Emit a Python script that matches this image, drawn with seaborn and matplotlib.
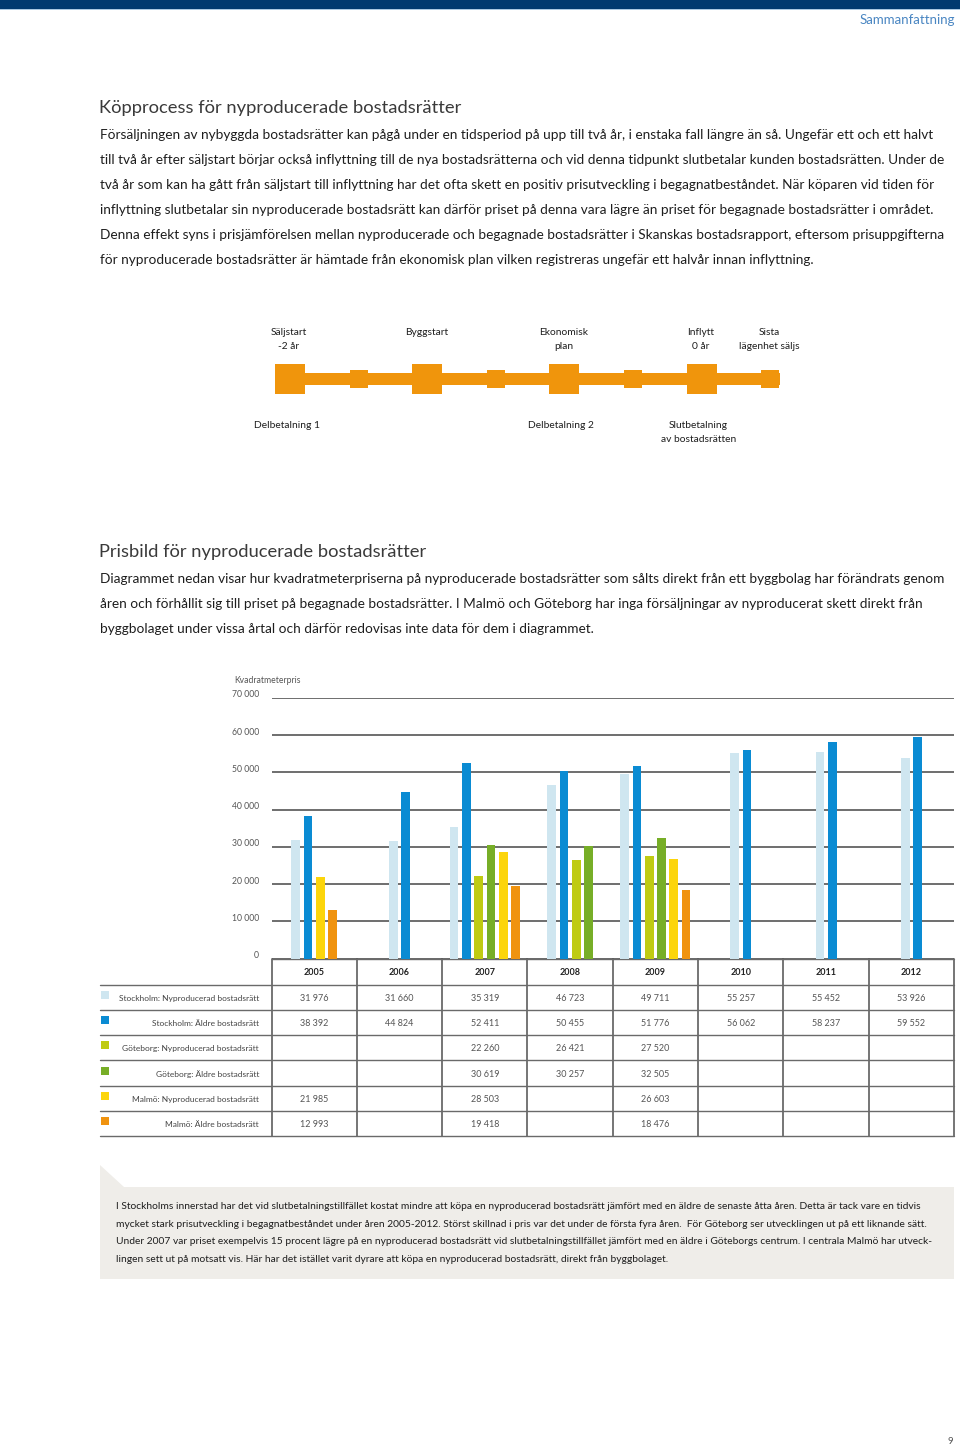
import matplotlib
matplotlib.use("Agg")
import pandas as pd
import matplotlib.pyplot as plt
import matplotlib.transforms as mtransforms
from matplotlib.patches import Rectangle, Polygon
import seaborn as sns

# data
years = ["2005", "2006", "2007", "2008", "2009", "2010", "2011", "2012"]
series = ["Stockholm: Nyproducerad bostadsrätt", "Stockholm: Äldre bostadsrätt",
          "Göteborg: Nyproducerad bostadsrätt", "Göteborg: Äldre bostadsrätt",
          "Malmö: Nyproducerad bostadsrätt", "Malmö: Äldre bostadsrätt"]
colors = ["#cfe6f0", "#0a8bd3", "#bfcb12", "#77ae27", "#fcd50b", "#f0930f"]

sthlm_ny = [31976, 31660, 35319, 46723, 49711, 55257, 55452, 53926]
sthlm_old = [38392, 44824, 52411, 50455, 51776, 56062, 58237, 59552]
gbg_ny = [None, None, 22260, 26421, 27520, None, None, None]
gbg_old = [None, None, 30619, 30257, 32505, None, None, None]
malmo_ny = [21985, None, 28503, None, 26603, None, None, None]
malmo_old = [12993, None, 19418, None, 18476, None, None, None]
values = [sthlm_ny, sthlm_old, gbg_ny, gbg_old, malmo_ny, malmo_old]

y_ticks = [0, 10000, 20000, 30000, 40000, 50000, 60000, 70000]

top_labels = ["Säljstart\n-2 år", "Byggstart", "Ekonomisk\nplan", "Inflytt\n0 år", "Sista\nlägenhet säljs"]
bottom_labels = ["Delbetalning 1", "Delbetalning 2", "Slutbetalning\nav bostadsrätten"]

title1 = "Köpprocess för nyproducerade bostadsrätter"
text1 = [
    "Försäljningen av nybyggda bostadsrätter kan pågå under en tidsperiod på upp till två år, i enstaka fall längre än så. Ungefär ett och ett halvt",
    "till två år efter säljstart börjar också inflyttning till de nya bostadsrätterna och vid denna tidpunkt slutbetalar kunden bostadsrätten. Under de",
    "två år som kan ha gått från säljstart till inflyttning har det ofta skett en positiv prisutveckling i begagnatbeståndet. När köparen vid tiden för",
    "inflyttning slutbetalar sin nyproducerade bostadsrätt kan därför priset på denna vara lägre än priset för begagnade bostadsrätter i området.",
    "Denna effekt syns i prisjämförelsen mellan nyproducerade och begagnade bostadsrätter i Skanskas bostadsrapport, eftersom prisuppgifterna",
    "för nyproducerade bostadsrätter är hämtade från ekonomisk plan vilken registreras ungefär ett halvår innan inflyttning.",
]
title2 = "Prisbild för nyproducerade bostadsrätter"
text2 = [
    "Diagrammet nedan visar hur kvadratmeterpriserna på nyproducerade bostadsrätter som sålts direkt från ett byggbolag har förändrats genom",
    "åren och förhållit sig till priset på begagnade bostadsrätter. I Malmö och Göteborg har inga försäljningar av nyproducerat skett direkt från",
    "byggbolaget under vissa årtal och därför redovisas inte data för dem i diagrammet.",
]
box_text = [
    "I Stockholms innerstad har det vid slutbetalningstillfället kostat mindre att köpa en nyproducerad bostadsrätt jämfört med en äldre de senaste åtta åren. Detta är tack vare en tidvis",
    "mycket stark prisutveckling i begagnatbeståndet under åren 2005-2012. Störst skillnad i pris var det under de första fyra åren.  För Göteborg ser utvecklingen ut på ett liknande sätt.",
    "Under 2007 var priset exempelvis 15 procent lägre på en nyproducerad bostadsrätt vid slutbetalningstillfället jämfört med en äldre i Göteborgs centrum. I centrala Malmö har utveck-",
    "lingen sett ut på motsatt vis. Här har det istället varit dyrare att köpa en nyproducerad bostadsrätt, direkt från byggbolaget.",
]

sns.set_style("white")
plt.rcParams["font.family"] = ["Lato", "DejaVu Sans"]

W, H = 960, 1450
fig = plt.figure(figsize=(9.6, 14.5), dpi=100)

# page overlay in pixel coords
pg = fig.add_axes([0, 0, 1, 1])
pg.set_xlim(0, W)
pg.set_ylim(H, 0)
pg.axis("off")

dark = "#1e1e1e"
body_fs = 9.8
pg.add_patch(Rectangle((0, 0), W, 9, color="#003a70", lw=0))
pg.add_patch(Rectangle((0, 9), W, 1.2, color="#a9c8e2", lw=0))
pg.text(955, 20, "Sammanfattning", ha="right", va="center", fontsize=9.5,
        color="#4a86c2")

# section 1
pg.text(99, 108, title1, va="center", fontsize=13.2, color="#3a3a3a")
for i, line in enumerate(text1):
    pg.text(100, 135 + 25 * i, line, va="center", fontsize=body_fs, color=dark)

# timeline
orange = "#f0950c"
tl_x0, tl_step, tl_y = 290, 68.6, 379
pg.add_patch(Rectangle((275, tl_y - 6), 505, 12, color=orange, lw=0))
for i in range(8):
    s = 30 if i % 2 == 0 else 18
    cx = tl_x0 + i * tl_step
    pg.add_patch(Rectangle((cx - s / 2, tl_y - s / 2), s, s, color=orange, lw=0))
for lab, idx in zip(top_labels, [0, 2, 4, 6, 7]):
    for j, ln in enumerate(lab.split("\n")):
        pg.text(tl_x0 + idx * tl_step - 1, 332 + 14 * j, ln, ha="center", va="center",
                fontsize=7.4, color=dark)
for lab, idx in zip(bottom_labels, [0, 4, 6]):
    for j, ln in enumerate(lab.split("\n")):
        pg.text(tl_x0 + idx * tl_step - 3, 425 + 14 * j, ln, ha="center", va="center",
                fontsize=7.4, color=dark)

# section 2
pg.text(99, 552, title2, va="center", fontsize=13.2, color="#3a3a3a")
for i, line in enumerate(text2):
    pg.text(100, 579 + 25 * i, line, va="center", fontsize=body_fs, color=dark)

# bar chart
left, right, top, bottom = 271.5, 954, 698, 958.5
ax = fig.add_axes([left / W, 1 - bottom / H, (right - left) / W, (bottom - top) / H])
ax.patch.set_alpha(0)

pitch = 0.144
rows = []
for yi in range(len(years)):
    present = [k for k in range(len(series)) if values[k][yi] is not None]
    n = len(present)
    for j, k in enumerate(present):
        rows.append({"pos": yi + (j - (n - 1) / 2) * pitch, "value": values[k][yi],
                     "series": series[k]})
df = pd.DataFrame(rows)

sns.barplot(data=df, x="pos", y="value", hue="series", hue_order=series,
            palette=dict(zip(series, colors)), native_scale=True, dodge=False,
            width=0.71, saturation=1, errorbar=None, legend=False, ax=ax, linewidth=0)
ax.set_xlim(-0.5, len(years) - 0.5)
ax.set_ylim(0, 70000)
ax.set_yticks(y_ticks)
ax.set_xticks([])
ax.set_yticklabels([])
ax.tick_params(length=0)
ax.set_xlabel("")
ax.set_ylabel("")
ax.yaxis.grid(True, color="#555555", lw=1.2)
ax.set_axisbelow(True)
sns.despine(ax=ax, left=True, bottom=True)

off = mtransforms.ScaledTranslation(0, 0.03, fig.dpi_scale_trans)
for v in y_ticks:
    ax.text(-0.018, v, f"{v:,}".replace(",", " "), ha="right", va="center",
            fontsize=6.2, color="#555555", transform=ax.get_yaxis_transform() + off)
pg.text(234, 680, "Kvadratmeterpris", ha="left", va="center", fontsize=6.2, color="#555555")

# table
col_w = (right - left) / len(years)
head_bot = 984.5
row_h = 25.3
line_c = "#6a6a6a"
pg.plot([left, right], [bottom, bottom], color=line_c, lw=1.0)
for k in range(len(series) + 1):
    yy = head_bot + k * row_h
    pg.plot([100, right], [yy, yy], color=line_c, lw=1.0)
tbl_bot = head_bot + len(series) * row_h
for c in range(len(years) + 1):
    xx = left + c * col_w
    pg.plot([xx, xx], [bottom, tbl_bot], color=line_c, lw=1.3)
for c, yr in enumerate(years):
    pg.text(left + (c + 0.5) * col_w, (bottom + head_bot) / 2 + 1, yr, ha="center",
            va="center", fontsize=6.5, fontweight="bold", color="#222222")
for k, name in enumerate(series):
    yc = head_bot + (k + 0.5) * row_h
    pg.add_patch(Rectangle((101, yc - 6.5), 8, 8, color=colors[k], lw=0))
    pg.text(259, yc + 1, name, ha="right", va="center", fontsize=6, color="#444444")
    for c in range(len(years)):
        v = values[k][c]
        if v is not None:
            pg.text(left + (c + 0.5) * col_w, yc + 1, f"{v:,}".replace(",", " "),
                    ha="center", va="center", fontsize=6.5, color="#555555")

# note box
box_c = "#efede9"
pg.add_patch(Polygon([(100, 1165), (100, 1187), (124, 1187)], closed=True, color=box_c, lw=0))
pg.add_patch(Rectangle((100, 1187), right - 100, 92, color=box_c, lw=0))
for i, line in enumerate(box_text):
    pg.text(116, 1206.5 + 17.6 * i, line, va="center", fontsize=7.4, color=dark)

pg.text(950, 1441, "9", ha="center", va="center", fontsize=7, color="#555555")

fig.savefig("out.png", dpi=100)
